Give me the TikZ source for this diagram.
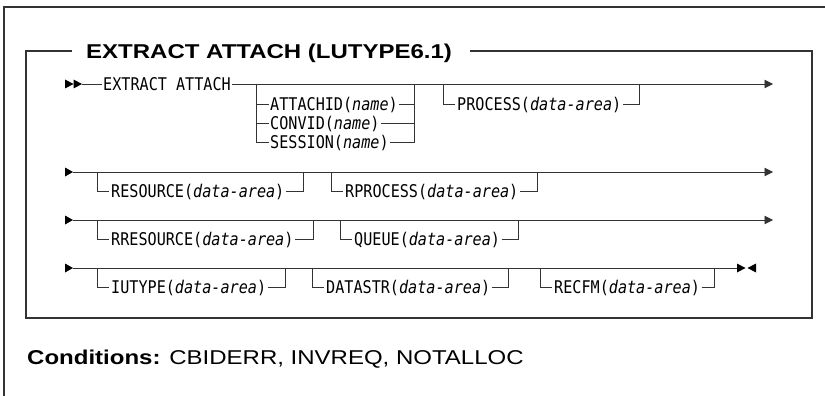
\documentclass[tikz,border=0pt]{standalone}
\usepackage{fontspec}
\setmainfont{Liberation Sans}
\newfontfamily\hdfont[FakeStretch=1.2]{Liberation Sans}
\newfontfamily\hdbfont[FakeStretch=1.2]{Liberation Sans Bold}
\newfontfamily\kwfont[FakeStretch=0.865]{DejaVu Sans Mono}
\usetikzlibrary{arrows.meta}
\newcommand\optbranch[6]{% name, left x, right x, main y, item y, text
  \coordinate (#1l) at (#2+12,#5);
  \node[kw] (#1) at (#2+14,#5+6.3) {#6};
  \draw[rail] (#2,#4) |- (#1l);
  \draw[rail] ([xshift=1.5pt]#1.east |- #1l) -| (#3,#4);
}
\newcommand\da{\textit{data-area}}
\begin{document}
\begin{tikzpicture}[x=1pt,y=-1pt,
  rail/.style={draw=black!80, line width=0.9pt},
  framel/.style={draw=black!80, line width=1.4pt},
  kw/.style={font=\kwfont\fontsize{17.5}{19}\selectfont, inner sep=0pt, anchor=base west},
  hd/.style={font=\hdbfont\fontsize{20}{24}\selectfont, inner sep=0pt, anchor=base west},
  cond/.style={font=\hdfont\fontsize{20}{24}\selectfont, inner sep=0pt, anchor=base west},
  tipfill/.style={fill=black},
  endarrow/.style={-{Triangle[length=8.5pt,width=8.5pt]}}
]
\useasboundingbox (0,0) rectangle (825,396);
\fill[white] (0,0) rectangle (825,396);

% outer frame
\draw[framel] (4,396) -- (4,7) -- (825,7);

% title and inner frame
\node[hd] (title) at (86,59) {EXTRACT ATTACH (LUTYPE6.1)};
\coordinate (ftl) at (26,51);
\coordinate (ftr) at (812,51);
\coordinate (fbl) at (26,318);
\coordinate (fbr) at (812,318);
\draw[framel] ([xshift=-14pt]title.west |- ftl) -- (ftl) -- (fbl) -- (fbr) -- (ftr) -- ([xshift=18pt]title.east |- ftr);

% ---------- row 1 ----------
\fill[tipfill] (65,79.5) -- (73.5,84) -- (65,88.5) -- cycle;
\fill[tipfill] (73.5,79.5) -- (82,84) -- (73.5,88.5) -- cycle;
\coordinate (r1s) at (82,84);
\coordinate (r1e) at (773,84);
\node[kw] (extract) at (103,90.3) {EXTRACT ATTACH};
\draw[rail] (r1s) -- ([xshift=-1.5pt]extract.west |- r1s);
\draw[rail,endarrow] ([xshift=1.5pt]extract.east |- r1s) -- (r1e);

% choice group
\coordinate (ga) at (256,104);
\coordinate (gb) at (256,123);
\coordinate (gc) at (256,142);
\node[kw] (attachid) at (270,110.3) {ATTACHID(\textit{name})};
\node[kw] (convid) at (270,129.3) {CONVID(\textit{name})};
\node[kw] (session) at (270,148.3) {SESSION(\textit{name})};
\draw[rail] (256,84) |- ([xshift=-1.5pt]session.west |- gc);
\draw[rail] (ga) -- ([xshift=-1.5pt]attachid.west |- ga);
\draw[rail] (gb) -- ([xshift=-1.5pt]convid.west |- gb);
\draw[rail] ([xshift=1.5pt]session.east |- gc) -| (414,84);
\draw[rail] ([xshift=1.5pt]attachid.east |- ga) -- (414,104);
\draw[rail] ([xshift=1.5pt]convid.east |- gb) -- (414,123);

\optbranch{process}{443}{639}{84}{104}{PROCESS(\da)}

% ---------- row 2 ----------
\fill[tipfill] (65,167.5) -- (73,172) -- (65,176.5) -- cycle;
\coordinate (r2s) at (73,172);
\coordinate (r2e) at (773,172);
\draw[rail,endarrow] (r2s) -- (r2e);
\optbranch{resource}{97}{303}{172}{191}{RESOURCE(\da)}
\optbranch{rprocess}{331}{537}{172}{191}{RPROCESS(\da)}

% ---------- row 3 ----------
\fill[tipfill] (65,215.5) -- (73,220) -- (65,224.5) -- cycle;
\coordinate (r3s) at (73,220);
\coordinate (r3e) at (773,220);
\draw[rail,endarrow] (r3s) -- (r3e);
\optbranch{rresource}{97}{313}{220}{239}{RRESOURCE(\da)}
\optbranch{queue}{340}{518}{220}{239}{QUEUE(\da)}

% ---------- row 4 ----------
\fill[tipfill] (65,263.5) -- (73,268) -- (65,272.5) -- cycle;
\coordinate (r4s) at (73,268);
\coordinate (r4e) at (737,268);
\draw[rail] (r4s) -- (r4e);
\fill[tipfill] (737,263.5) -- (745.5,268) -- (737,272.5) -- cycle;
\fill[tipfill] (756,263.5) -- (747.5,268) -- (756,272.5) -- cycle;
\optbranch{iutype}{97}{285}{268}{287}{IUTYPE(\da)}
\optbranch{datastr}{312}{508}{268}{287}{DATASTR(\da)}
\optbranch{recfm}{540}{714}{268}{287}{RECFM(\da)}

% conditions
\node[cond] (cond) at (27,364) {{\hdbfont Conditions:} CBIDERR, INVREQ, NOTALLOC};
\end{tikzpicture}
\end{document}
